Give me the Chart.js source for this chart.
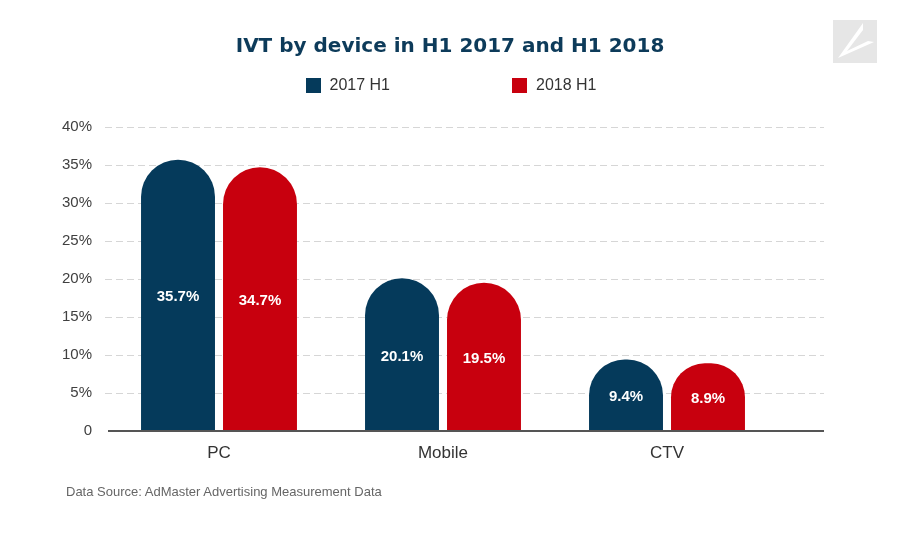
<!DOCTYPE html>
<html><head><meta charset="utf-8">
<script src="https://cdn.jsdelivr.net/npm/chart.js@4"></script>
<style>
html,body{margin:0;padding:0;background:#fff;}
#wrap{position:relative;width:900px;height:541px;overflow:hidden;}
canvas{position:absolute;left:0;top:0;}
#legend{position:absolute;top:76px;left:0;width:900px;display:flex;justify-content:center;gap:122px;font:16px "Liberation Sans",Arial,sans-serif;color:#333;padding-left:2px;box-sizing:border-box;}
.item{display:flex;align-items:center;height:18px;}
.box{width:15px;height:15px;margin-right:9px;}
#source{position:absolute;left:66px;top:484px;font:13px "Liberation Sans",Arial,sans-serif;color:#666;white-space:nowrap;}
#logo{position:absolute;left:833px;top:20px;}
</style>
</head><body>
<div id="wrap">
<canvas id="c" width="900" height="541"></canvas>
<div id="legend"></div>
<div id="source">Data Source: AdMaster Advertising Measurement Data</div>
<svg id="logo" width="44" height="43" viewBox="0 0 44 43"><rect x="0" y="0" width="44" height="43" fill="#e6e6e6"/><path d="M30,3 L5,38 L41,22 L35,21 L14,31 L30,10 Z" fill="#fff"/></svg>
</div>
<script>
const categories = ['PC', 'Mobile', 'CTV'];
const seriesLabels = ['2017 H1', '2018 H1'];
const values2017 = [35.7, 20.1, 9.4];
const values2018 = [34.7, 19.5, 8.9];
const yMin = 0, yMax = 40, yStep = 5;
const colors = ['#053a5b', '#c8000e'];

const gridPlugin = {
  id: 'extGrid',
  beforeDatasetsDraw(chart) {
    const {ctx, chartArea} = chart;
    const y = chart.scales.y;
    ctx.save();
    ctx.strokeStyle = '#d6d6d6';
    ctx.lineWidth = 1;
    ctx.setLineDash([7, 4]);
    y.ticks.forEach(t => {
      if (t.value === 0) return;
      const py = Math.round(y.getPixelForValue(t.value)) + 0.5;
      ctx.beginPath();
      ctx.moveTo(chartArea.left - 2, py);
      ctx.lineTo(chartArea.right + 45, py);
      ctx.stroke();
    });
    ctx.restore();
  },
  afterDatasetsDraw(chart) {
    const {ctx, chartArea} = chart;
    const y = chart.scales.y;
    ctx.save();
    const py = y.getPixelForValue(0);
    ctx.strokeStyle = '#555';
    ctx.lineWidth = 2;
    ctx.beginPath();
    ctx.moveTo(chartArea.left + 1, py);
    ctx.lineTo(chartArea.right + 45, py);
    ctx.stroke();
    ctx.fillStyle = '#fff';
    ctx.font = 'bold 15px "Liberation Sans", Arial, sans-serif';
    ctx.textAlign = 'center';
    ctx.textBaseline = 'middle';
    chart.data.datasets.forEach((ds, di) => {
      chart.getDatasetMeta(di).data.forEach((el, i) => {
        ctx.fillText(ds.data[i].toFixed(1) + '%', el.x, (el.y + el.base) / 2 + 2);
      });
    });
    ctx.restore();
  }
};

const chart = new Chart(document.getElementById('c'), {
  type: 'bar',
  data: {
    labels: categories,
    datasets: [
      {label: seriesLabels[0], data: values2017, backgroundColor: colors[0]},
      {label: seriesLabels[1], data: values2018, backgroundColor: colors[1]}
    ]
  },
  options: {
    responsive: false,
    animation: false,
    layout: {padding: {left: 0, right: 0, top: 0, bottom: 70}},
    datasets: {
      bar: {
        categoryPercentage: 0.732,
        barPercentage: 0.902,
        borderRadius: {topLeft: 40, topRight: 40, bottomLeft: 0, bottomRight: 0},
        borderSkipped: 'bottom'
      }
    },
    plugins: {
      legend: {display: false},
      tooltip: {enabled: false},
      title: {
        display: true,
        text: 'IVT by device in H1 2017 and H1 2018',
        color: '#0d3b5a',
        font: {family: '"DejaVu Sans"', size: 20, weight: 'bold', lineHeight: 1.2},
        padding: {top: 35, bottom: 68}
      }
    },
    scales: {
      x: {
        grid: {display: false, drawTicks: false},
        border: {display: false},
        ticks: {color: '#333', font: {family: '"Liberation Sans"', size: 17}, padding: 12},
        afterFit: s => { s.height = 40; }
      },
      y: {
        min: yMin, max: yMax,
        grid: {display: false, drawTicks: false},
        border: {display: false},
        ticks: {
          stepSize: yStep,
          color: '#404040',
          font: {family: '"Liberation Sans"', size: 15},
          padding: 15,
          callback: v => v === 0 ? '0' : v + '%'
        },
        afterFit: s => { s.width = 107; }
      },
      yr: {
        type: 'linear',
        position: 'right',
        display: true,
        grid: {display: false, drawTicks: false},
        border: {display: false},
        ticks: {display: false},
        afterFit: s => { s.width = 121; }
      }
    }
  },
  plugins: [gridPlugin]
});

const legendEl = document.getElementById('legend');
chart.data.datasets.forEach(ds => {
  const item = document.createElement('div');
  item.className = 'item';
  const box = document.createElement('span');
  box.className = 'box';
  box.style.background = ds.backgroundColor;
  const txt = document.createElement('span');
  txt.textContent = ds.label;
  item.appendChild(box);
  item.appendChild(txt);
  legendEl.appendChild(item);
});
</script>
</body></html>
